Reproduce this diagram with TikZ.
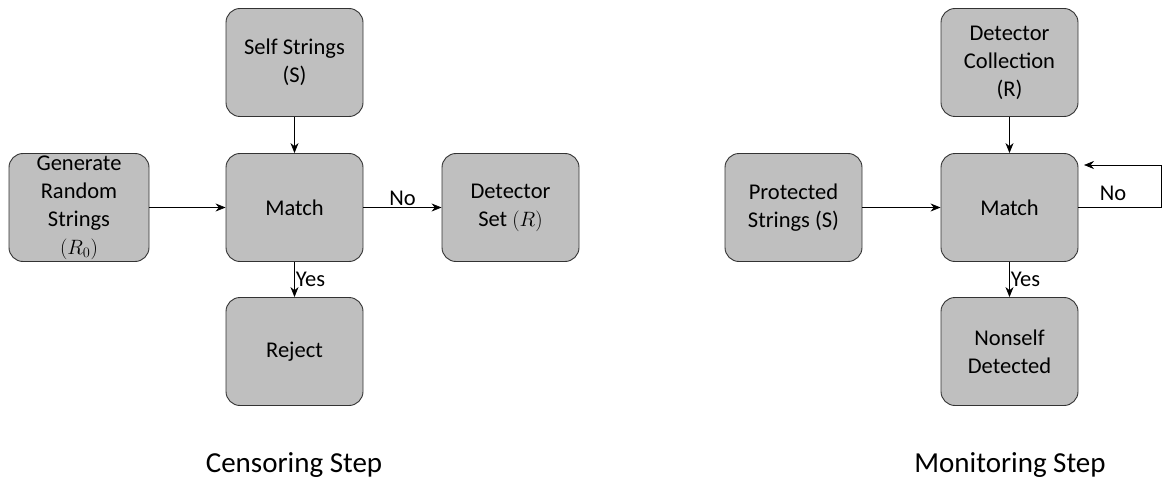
\documentclass[tikz,border=0pt]{standalone}
\usepackage{fontspec}
\setmainfont{Carlito}
\usetikzlibrary{arrows.meta}

\tikzset{
	basic/.style  = {draw=black!80, fill=black!25, rectangle, rounded corners=14pt,
		line width=0.9pt, align=center, minimum width=137pt, minimum height=108pt,
		font=\fontsize{22.5}{28}\selectfont, inner sep=2pt},
	wide/.style   = {basic, minimum width=140pt},
	lbl/.style    = {font=\fontsize{22.5}{26}\selectfont, inner sep=1pt},
	caption/.style = {font=\fontsize{29}{32}\selectfont}
}

\begin{document}
\begin{tikzpicture}[x=1pt, y=-1pt, >={Stealth[length=10pt,width=8pt]},
	edge/.style={->, draw, line width=0.7pt}]

\useasboundingbox (0,0) rectangle (1162,484);

% censoring step
\node[basic] (self) at (294.5,62.5) {Self Strings\\(S)};
\node[basic] (match1) at (294.5,207.5) {Match};
\node[basic] (reject) at (294.5,351.5) {Reject};
\node[wide] (gen) at (79,207.5) {Generate\\Random\\Strings\\$(R_0)$};
\node[basic] (detset) at (510.5,207.5) {Detector\\Set $(R)$};

\draw[edge] (self) -- (match1);
\draw[edge] (gen) -- (match1);
\draw[edge] (match1) -- node[lbl, above] {No} (detset);
\draw[edge] (match1) -- node[lbl, right] {Yes} (reject);

% monitoring step
\node[basic] (coll) at (1009.5,62.5) {Detector\\Collection\\(R)};
\node[basic] (match2) at (1009.5,207.5) {Match};
\node[basic] (prot) at (793.5,207.5) {Protected\\Strings (S)};
\node[basic] (nonself) at (1009.5,351.5) {Nonself\\Detected};
\coordinate (loopa) at (1161,207.5);
\coordinate (loopb) at (1161,165);
\coordinate (loopc) at (1084,165);

\draw[edge] (coll) -- (match2);
\draw[edge] (prot) -- (match2);
\draw[edge] (match2) -- node[lbl, right] {Yes} (nonself);
\draw[line width=0.7pt] (match2.east) -- (loopa) -- (loopb);
\draw[edge] (loopb) -- (loopc);
\node[lbl] (no2) at (1113,193) {No};

% captions
\node[caption] (cens) at (294,465) {Censoring Step};
\node[caption] (mon) at (1010,465) {Monitoring Step};

\end{tikzpicture}
\end{document}
